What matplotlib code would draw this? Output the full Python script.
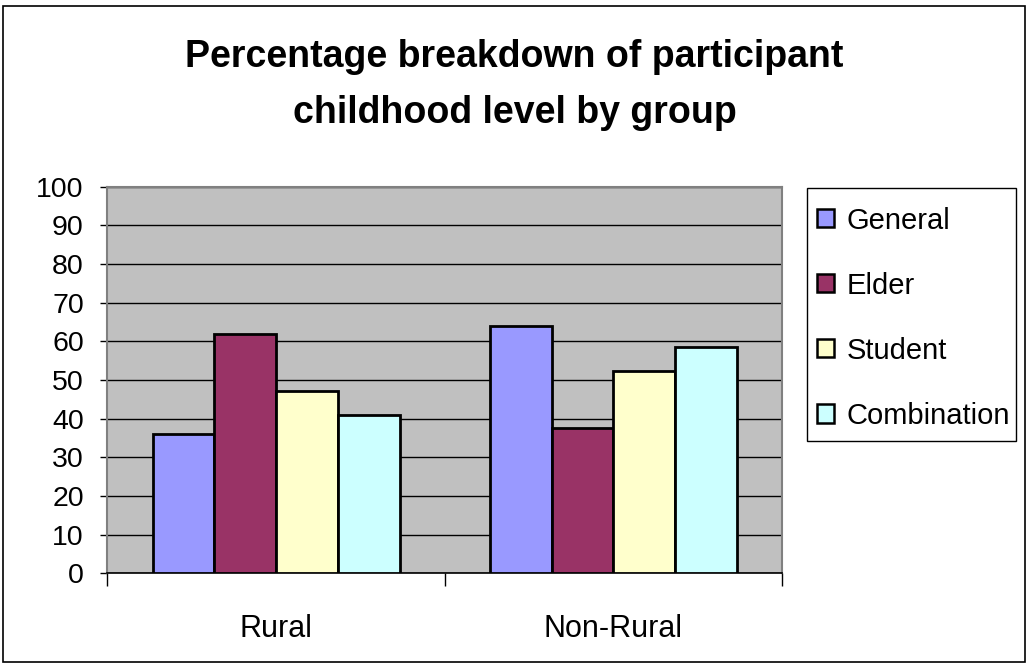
import matplotlib
matplotlib.use("Agg")
import matplotlib.pyplot as plt
import numpy as np
from matplotlib.patches import Rectangle

categories = ["Rural", "Non-Rural"]
series_names = ["General", "Elder", "Student", "Combination"]
general = [36, 64]
elder = [62, 37.5]
student = [47.2, 52.4]
combination = [41, 58.6]
yticks = [0, 10, 20, 30, 40, 50, 60, 70, 80, 90, 100]
title = "Percentage breakdown of participant\nchildhood level by group"

colors = ["#9999FF", "#993366", "#FFFFCC", "#CCFFFF"]
FONT = ["Liberation Sans", "DejaVu Sans"]

W, H = 1029, 666
fig = plt.figure(figsize=(W / 100, H / 100), dpi=100)
fig.patch.set_facecolor("white")

ax = fig.add_axes([107.4 / W, 1 - 573.3 / H, (782 - 107.4) / W, (573.3 - 186.7) / H])
ax.set_facecolor("#C0C0C0")

x = np.arange(len(categories))
bw = 0.183
series = [general, elder, student, combination]
for i, (name, vals, c) in enumerate(zip(series_names, series, colors)):
    ax.bar(x + (i - 1.5) * bw, vals, width=bw, color=c, edgecolor="black",
           linewidth=2.0, label=name, zorder=3)

ax.set_xlim(-0.5, 1.5)
ax.set_ylim(0, 100)
ax.set_yticks(yticks)
ax.set_yticklabels([str(v) for v in yticks], family=FONT, fontsize=20.5)
ax.yaxis.grid(True, color="black", linewidth=1.0, zorder=1)
ax.set_axisbelow(True)
ax.tick_params(axis="y", direction="out", length=5, width=1, color="black", pad=12)

ax.set_xticks(x)
ax.set_xticklabels(categories, family=FONT, fontsize=22)
ax.set_xticks([-0.5, 0.5, 1.5], minor=True)
ax.tick_params(axis="x", which="major", length=0, pad=29)
ax.tick_params(axis="x", which="minor", direction="out", length=9, width=1, color="black")

for s in ["top", "right", "left"]:
    ax.spines[s].set_color("#808080")
    ax.spines[s].set_linewidth(1.5)
ax.spines["bottom"].set_color("black")
ax.spines["bottom"].set_linewidth(1.2)

fig.text(0.5, 1 - 85 / H, title, ha="center", va="center", family=FONT,
         fontweight="bold", fontsize=27, linespacing=1.72)

# legend box
fig.patches.append(Rectangle((807 / W, 1 - 441 / H), (1016 - 807) / W, (441 - 188) / H,
                             transform=fig.transFigure, facecolor="white",
                             edgecolor="black", linewidth=1.0, zorder=1))
leg = fig.legend(loc="upper left", bbox_to_anchor=(807 / W, 1 - 197 / H),
                 bbox_transform=fig.transFigure, borderaxespad=0,
                 prop={"family": FONT, "size": 21}, frameon=False,
                 borderpad=0.33, labelspacing=1.27,
                 handlelength=0.58, handleheight=0.58, handletextpad=0.45)
leg.set_zorder(5)
for h in leg.legend_handles:
    h.set_linewidth(1.8)

fig.patches.append(Rectangle((3 / W, 4 / H), (1025 - 3) / W, (660 - 4) / H,
                             transform=fig.transFigure, fill=False,
                             edgecolor="black", linewidth=1.2))

fig.savefig("out.png", dpi=100)
